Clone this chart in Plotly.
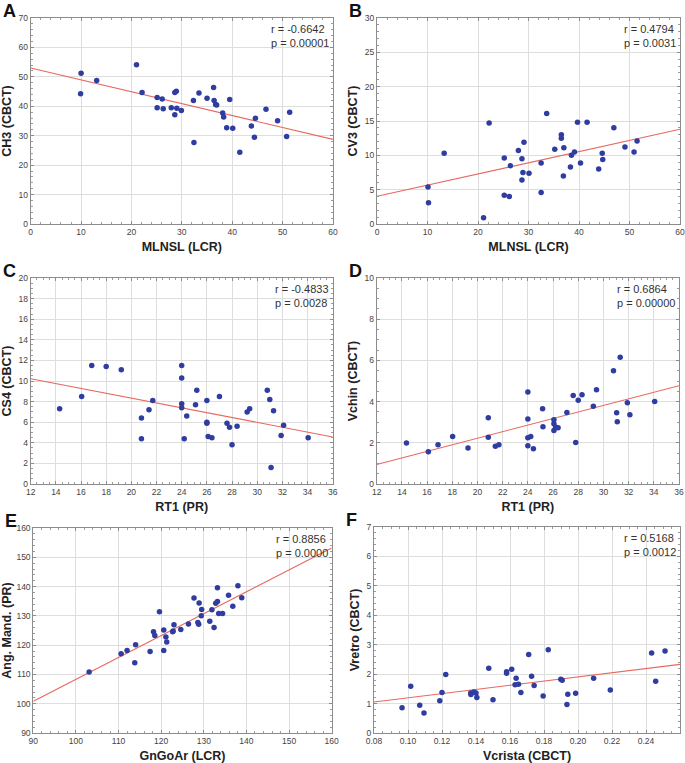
import numpy as np
import plotly.graph_objects as go

# A: MLNSL (LCR) vs CH3 (CBCT)
a_x = [10.0, 9.9, 13.1, 21.0, 22.1, 25.1, 25.1, 26.1, 26.3, 27.9, 28.6, 28.9, 28.6, 29.0, 29.9, 32.3, 32.4, 33.4,
       35.0, 36.3, 36.4, 36.7, 36.9, 38.1, 38.3, 39.5, 38.9, 40.1, 41.5, 43.8, 44.6, 44.4, 46.7, 49.0, 50.8, 51.4]
a_y = [51.2, 44.3, 48.8, 54.1, 44.7, 43.0, 39.5, 42.5, 39.2, 39.5, 44.7, 45.1, 37.1, 39.3, 38.6, 42.0, 27.7, 44.5,
       42.7, 46.4, 42.0, 40.6, 40.4, 37.7, 36.4, 42.3, 32.7, 32.5, 24.4, 33.3, 35.9, 29.5, 39.0, 35.1, 29.7, 38.0]

# B: MLNSL (LCR) vs CV3 (CBCT)
b_x = [10.1, 10.2, 13.3, 21.1, 22.2, 25.2, 25.2, 26.2, 26.4, 28.0, 28.7, 28.7, 28.9, 29.1, 30.1, 32.5, 32.5, 33.6,
       35.2, 36.5, 36.5, 37.0, 36.9, 38.3, 38.5, 39.1, 39.7, 40.3, 41.6, 43.9, 44.6, 44.7, 46.9, 49.1, 50.9, 51.5]
b_y = [5.4, 3.1, 10.3, 0.9, 14.7, 9.6, 4.2, 4.0, 8.5, 10.7, 9.5, 6.4, 7.5, 11.9, 7.4, 8.9, 4.6, 16.1,
       10.9, 13.0, 12.5, 11.1, 7.0, 8.3, 10.0, 10.5, 14.8, 8.9, 14.8, 8.0, 10.3, 9.4, 14.0, 11.2, 10.5, 12.1]

# C: RT1 (PR) vs CS4 (CBCT)
c_x = [14.3, 16.05, 16.85, 18.0, 19.2, 20.8, 20.8, 21.4, 21.7, 24.0, 24.0, 24.0, 24.0, 24.2, 24.4, 25.1, 25.2, 26.0,
       26.0, 26.0, 26.1, 26.4, 27.0, 27.6, 27.8, 28.0, 28.4, 29.2, 29.4, 30.8, 31.0, 31.3, 31.1, 31.9, 32.1, 34.05]
c_y = [7.3, 8.5, 11.5, 11.4, 11.1, 6.4, 4.4, 7.2, 8.1, 11.5, 10.3, 7.8, 7.4, 4.4, 6.6, 7.7, 9.1, 8.1,
       6.0, 5.9, 4.6, 4.5, 8.5, 5.9, 5.5, 3.8, 5.6, 7.0, 7.3, 9.1, 8.2, 7.1, 1.6, 4.7, 5.7, 4.5]

# D: RT1 (PR) vs Vchin (CBCT)
d_x = [14.36, 16.1, 16.87, 18.03, 19.25, 20.86, 20.86, 21.42, 21.7, 24.0, 24.0, 24.0, 24.0, 24.23, 24.44, 25.17,
       25.2, 26.07, 26.07, 26.07, 26.2, 26.4, 27.1, 27.6, 27.8, 28.0, 28.3, 29.2, 29.45, 30.8, 31.05, 31.1, 31.33,
       31.9, 32.1, 34.07]
d_y = [1.99, 1.57, 1.91, 2.30, 1.75, 3.22, 2.27, 1.83, 1.91, 4.47, 3.16, 2.25, 1.86, 2.31, 1.71, 3.65,
       2.78, 3.12, 2.93, 2.60, 2.77, 2.73, 3.47, 4.30, 2.02, 4.07, 4.33, 3.77, 4.58, 5.50, 3.46, 3.02, 6.15,
       3.95, 3.36, 4.00]

# E: GnGoAr (LCR) vs Ang. Mand. (PR)
e_x = [103.1, 110.6, 112.0, 114.0, 113.8, 117.4, 118.2, 118.5, 119.6, 120.6, 120.6, 121.1, 121.3, 122.7, 122.8,
       123.0, 124.6, 126.4, 127.7, 128.6, 128.8, 128.9, 129.5, 129.4, 131.4, 131.9, 132.4, 132.8, 133.2, 133.2,
       133.5, 134.4, 135.8, 136.8, 138.0, 138.9]
e_y = [110.8, 117.1, 118.2, 120.1, 114.0, 117.8, 124.6, 123.3, 131.4, 118.2, 125.2, 122.8, 121.1, 124.6, 124.8,
       127.0, 125.3, 127.2, 136.1, 127.7, 127.1, 134.4, 132.2, 130.0, 128.2, 132.1, 126.0, 134.3, 134.9, 139.6,
       130.8, 130.8, 137.0, 133.3, 140.3, 136.2]

# F: Vcrista (CBCT) vs Vretro (CBCT)
f_x = [0.0965, 0.1016, 0.1069, 0.1094, 0.1187, 0.1200, 0.1222, 0.1369, 0.1370, 0.1387, 0.1400, 0.1405, 0.1475,
       0.1500, 0.1580, 0.1580, 0.1610, 0.1630, 0.1636, 0.1650, 0.1664, 0.1710, 0.1727, 0.1742, 0.1795, 0.1825,
       0.1899, 0.1907, 0.1935, 0.1940, 0.1986, 0.2092, 0.2190, 0.2433, 0.2457, 0.2512]
f_y = [0.86, 1.59, 0.94, 0.68, 1.10, 1.38, 1.99, 1.36, 1.31, 1.39, 1.36, 1.21, 2.20, 1.13, 2.08, 2.03, 2.17,
       1.64, 1.86, 1.66, 1.38, 2.67, 1.93, 1.61, 1.26, 2.83, 1.83, 1.79, 0.97, 1.32, 1.35, 1.86, 1.46, 2.72,
       1.76, 2.79]

stats = ["r = -0.6642<br>p = 0.00001", "r = 0.4794<br>p = 0.0031", "r = -0.4833<br>p = 0.0028",
         "r = 0.6864<br>p = 0.00000", "r = 0.8856<br>p = 0.0000", "r = 0.5168<br>p = 0.0012"]
letters = ["A", "B", "C", "D", "E", "F"]
x_titles = ["MLNSL (LCR)", "MLNSL (LCR)", "RT1 (PR)", "RT1 (PR)", "GnGoAr (LCR)", "Vcrista (CBCT)"]
y_titles = ["CH3 (CBCT)", "CV3 (CBCT)", "CS4 (CBCT)", "Vchin (CBCT)", "Ang. Mand. (PR)", "Vretro (CBCT)"]

W, H = 685, 763
panels = [
    # x data, y data, x range, dx, y range, dy, plot box (px: left, right, top, bottom)
    (a_x, a_y, [0, 60], 10, [0, 70], 10, (30.7, 333, 18, 224)),
    (b_x, b_y, [0, 60], 10, [0, 30], 5, (377, 680, 18, 224)),
    (c_x, c_y, [12, 36], 2, [0, 20], 2, (30.7, 332.7, 278, 484)),
    (d_x, d_y, [12, 36], 2, [0, 10], 2, (376.7, 679, 278, 484)),
    (e_x, e_y, [90, 160], 10, [90, 160], 10, (33.3, 331.7, 528, 733)),
    (f_x, f_y, [0.08, 0.26], 0.02, [0, 7], 1, (374, 680, 527, 733)),
]

fig = go.Figure()
font = "Liberation Sans, Arial, sans-serif"
layout = {}
annotations = []
for i, (xs, ys, xr, dx, yr, dy, box) in enumerate(panels):
    n = "" if i == 0 else str(i + 1)
    xa, ya = "x" + n, "y" + n
    l, r, t, b = box
    slope, icpt = np.polyfit(xs, ys, 1)
    fig.add_trace(go.Scatter(x=xr, y=[icpt + slope * xr[0], icpt + slope * xr[1]], mode="lines",
                             line=dict(color="#e8685e", width=1.1), xaxis=xa, yaxis=ya, hoverinfo="skip"))
    fig.add_trace(go.Scatter(x=xs, y=ys, mode="markers", marker=dict(color="#2f3ca0", size=5.5),
                             xaxis=xa, yaxis=ya))
    common = dict(showline=True, mirror="ticks", linecolor="#8c8c8c", linewidth=1, showgrid=True,
                  gridcolor="#dedede", gridwidth=1, zeroline=False, ticks="inside", ticklen=3,
                  tickcolor="#8c8c8c", automargin=False,
                  tickfont=dict(size=8.5, color="#444", family=font),
                  minor=dict(ticks="inside", ticklen=2, tickcolor="#9c9c9c", nticks=5, showgrid=False))
    layout["xaxis" + n] = dict(common, domain=[l / W, r / W], range=xr, dtick=dx, anchor=ya,
                               tickformat=".2f" if dx < 1 else "d",
                               title=dict(text="<b>" + x_titles[i] + "</b>", standoff=6,
                                          font=dict(size=12.5, color="#222", family=font)))
    layout["yaxis" + n] = dict(common, domain=[1 - b / H, 1 - t / H], range=yr, dtick=dy, anchor=xa,
                               title=dict(text="<b>" + y_titles[i] + "</b>", standoff=4,
                                          font=dict(size=12.5, color="#222", family=font)))
    annotations.append(dict(x=1, y=1, xref=xa + " domain", yref=ya + " domain", xanchor="right",
                            yanchor="top", xshift=-2, yshift=-3, text=stats[i], showarrow=False, align="left",
                            font=dict(size=11, color="#333", family=font)))
    annotations.append(dict(x=(l - 30) / W, y=1 - (t - 19) / H, xref="paper", yref="paper", xanchor="left",
                            yanchor="top", text="<b>" + letters[i] + "</b>", showarrow=False,
                            font=dict(size=18, color="#111", family=font)))

fig.update_layout(width=W, height=H, margin=dict(l=0, r=0, t=0, b=0), showlegend=False,
                  plot_bgcolor="white", paper_bgcolor="white", annotations=annotations, **layout)
fig.write_html("out.html", config={"displayModeBar": False},
               post_script="document.body.style.margin='0px';")
